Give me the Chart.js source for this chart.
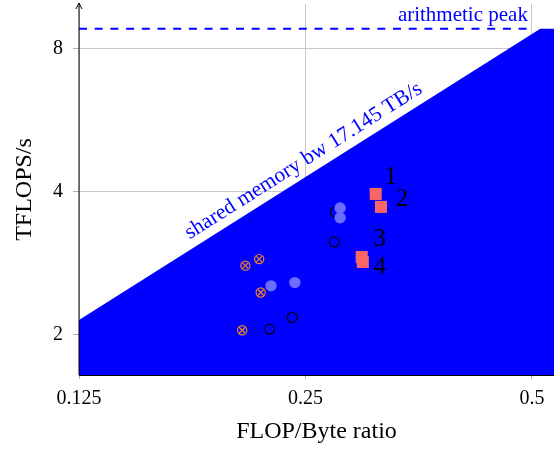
<!DOCTYPE html>
<html>
<head>
<meta charset="utf-8">
<script src="https://cdn.jsdelivr.net/npm/chart.js@4"></script>
<style>
  html, body { margin: 0; padding: 0; background: #fff; overflow: hidden; }
  canvas { display: block; }
</style>
</head>
<body>
<canvas id="chart" width="554" height="450"></canvas>
<script>
// roofline: shared memory bw 17.145 TB/s, arithmetic peak ~8.8 TFLOPS/s
const roofX = [0.125, 0.513, 0.535];
const roofY = [2.143, 8.8, 8.8];
const peakX = [0.125, 0.5];
const peakY = [8.8, 8.8];

// measured kernels
const redX = [0.310, 0.315, 0.297, 0.298];
const redY = [3.95, 3.71, 2.91, 2.84];
const redLabels = ['1', '2', '3', '4'];
const blueX = [0.278, 0.278, 0.225, 0.242];
const blueY = [3.69, 3.52, 2.53, 2.57];
const blackX = [0.273, 0.274, 0.224, 0.240];
const blackY = [3.13, 3.62, 2.05, 2.17];
const orangeX = [0.208, 0.217, 0.218, 0.206];
const orangeY = [2.79, 2.88, 2.45, 2.04];

const xTicks = [0.125, 0.25, 0.5];
const yTicks = [2, 4, 8];

const serif = '"Liberation Serif", "Times New Roman", serif';
const pts = (xs, ys) => xs.map((x, i) => ({ x: x, y: ys[i] }));

// axis lines, arrow and text annotations on top of the fill
const annotations = {
  id: 'annotations',
  afterDatasetsDraw(chart) {
    const ctx = chart.ctx;
    const { left, right, top, bottom } = chart.chartArea;
    const xs = chart.scales.x, ys = chart.scales.y;
    ctx.save();

    // axes
    ctx.strokeStyle = '#000';
    ctx.lineWidth = 1;
    ctx.beginPath();
    ctx.moveTo(left, bottom + 0.5);
    ctx.lineTo(right, bottom + 0.5);
    ctx.moveTo(left, bottom);
    ctx.lineTo(left, top - 1);
    ctx.stroke();
    ctx.beginPath();
    ctx.moveTo(left - 3, top + 5);
    ctx.lineTo(left, top - 1);
    ctx.lineTo(left + 3, top + 5);
    ctx.stroke();

    // arithmetic peak label
    ctx.fillStyle = '#0000ff';
    ctx.font = '21px ' + serif;
    ctx.textAlign = 'right';
    ctx.textBaseline = 'alphabetic';
    ctx.fillText('arithmetic peak', xs.getPixelForValue(peakX[1]) - 4, ys.getPixelForValue(peakY[0]) - 8);

    // bandwidth label along the roof
    const x0 = xs.getPixelForValue(roofX[0]), y0 = ys.getPixelForValue(roofY[0]);
    const x1 = xs.getPixelForValue(roofX[1]), y1 = ys.getPixelForValue(roofY[1]);
    const ang = Math.atan2(y1 - y0, x1 - x0);
    const tx = 0.178;
    const ax = xs.getPixelForValue(tx);
    const ay = ys.getPixelForValue(roofY[0] * tx / roofX[0]);
    ctx.translate(ax, ay);
    ctx.rotate(ang);
    ctx.textAlign = 'left';
    ctx.font = '21.5px ' + serif;
    ctx.fillText('shared memory bw 17.145 TB/s', 0, -9);
    ctx.setTransform(1, 0, 0, 1, 0, 0);

    // kernel numbers
    const offs = [[15, -17], [21, -7], [18, -18], [17, 5]];
    ctx.fillStyle = '#000';
    ctx.font = '25px ' + serif;
    ctx.textAlign = 'center';
    ctx.textBaseline = 'middle';
    redLabels.forEach((t, i) => {
      const px = xs.getPixelForValue(redX[i]) + offs[i][0];
      const py = ys.getPixelForValue(redY[i]) + offs[i][1];
      ctx.fillText(t, px, py);
    });
    ctx.restore();
  }
};

const orange = 'rgb(243,128,38)';

new Chart(document.getElementById('chart'), {
  type: 'scatter',
  data: {
    datasets: [
      {
        type: 'line',
        data: pts(roofX, roofY),
        fill: 'start',
        backgroundColor: '#0000ff',
        borderColor: '#0000ff',
        borderWidth: 0,
        pointRadius: 0,
        order: 10,
      },
      {
        type: 'line',
        data: pts(peakX, peakY),
        borderColor: '#0000ff',
        borderWidth: 2,
        borderDash: [8, 7.7],
        pointRadius: 0,
        fill: false,
        order: 9,
      },
      {
        data: pts(blackX, blackY),
        pointStyle: 'circle',
        pointRadius: 5,
        borderColor: '#000',
        borderWidth: 1.2,
        backgroundColor: 'rgba(0,0,0,0)',
        order: 5,
      },
      {
        data: pts(blueX, blueY),
        pointStyle: 'circle',
        pointRadius: 5.7,
        borderWidth: 0,
        backgroundColor: 'rgb(108,108,255)',
        order: 4,
      },
      {
        data: pts(redX, redY),
        pointStyle: 'rect',
        pointRadius: 8.5,
        borderWidth: 0,
        backgroundColor: 'rgb(250,102,102)',
        order: 3,
      },
      {
        data: pts(orangeX, orangeY),
        pointStyle: 'circle',
        pointRadius: 4.6,
        borderColor: orange,
        borderWidth: 1.2,
        backgroundColor: 'rgba(0,0,0,0)',
        order: 2,
      },
      {
        data: pts(orangeX, orangeY),
        pointStyle: 'crossRot',
        pointRadius: 4.6,
        borderColor: orange,
        borderWidth: 1.2,
        order: 1,
      },
    ],
  },
  options: {
    responsive: false,
    animation: false,
    devicePixelRatio: 1,
    layout: { autoPadding: false, padding: { top: 4, right: 0, left: 0, bottom: 0 } },
    plugins: {
      legend: { display: false },
      tooltip: { enabled: false },
    },
    scales: {
      x: {
        type: 'logarithmic',
        bounds: 'data',
        min: 0.125,
        max: 0.535,
        afterBuildTicks: (s) => { s.ticks = xTicks.map((v) => ({ value: v })); },
        afterFit: (s) => { s.height = 75; s.paddingLeft = 0; s.paddingRight = 0; },
        ticks: {
          color: '#000',
          font: { family: serif, size: 20 },
          padding: 8,
          maxRotation: 0,
          callback: (v) => String(v),
        },
        grid: { color: '#c8c8c8', tickColor: '#b0b0b0', tickLength: 4 },
        border: { display: false },
        title: {
          display: true,
          text: 'FLOP/Byte ratio',
          color: '#000',
          font: { family: serif, size: 24 },
          padding: { top: 0, bottom: 4 },
        },
      },
      y: {
        type: 'logarithmic',
        bounds: 'data',
        min: 1.642,
        max: 9.92,
        afterBuildTicks: (s) => { s.ticks = yTicks.map((v) => ({ value: v })); },
        afterFit: (s) => { s.width = 79; s.paddingTop = 0; s.paddingBottom = 0; },
        ticks: {
          color: '#000',
          font: { family: serif, size: 20 },
          padding: 10,
          callback: (v) => String(v),
        },
        grid: { color: '#c8c8c8', tickColor: '#b0b0b0', tickLength: 6 },
        border: { display: false },
        title: {
          display: true,
          text: 'TFLOPS/s',
          color: '#000',
          font: { family: serif, size: 24 },
          padding: { top: 10, bottom: 0 },
        },
      },
    },
  },
  plugins: [annotations],
});
</script>
</body>
</html>
